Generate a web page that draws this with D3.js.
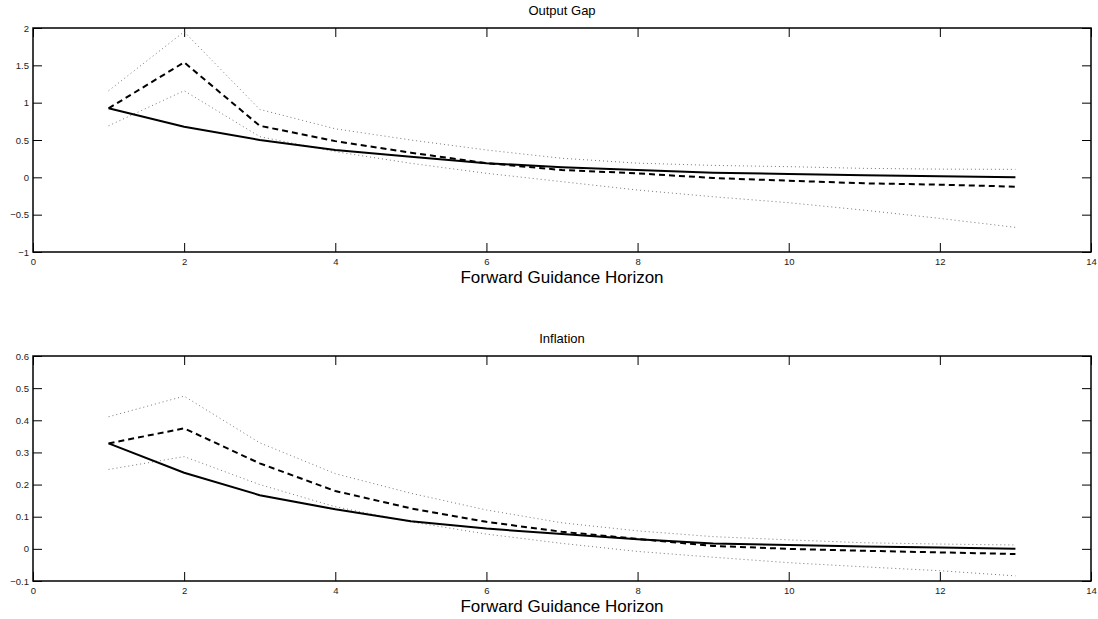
<!DOCTYPE html>
<html>
<head>
<meta charset="utf-8">
<script src="https://cdn.jsdelivr.net/npm/d3@7"></script>
<style>
  html, body { margin: 0; padding: 0; background: #fff; }
  svg { display: block; }
  text { font-family: "Liberation Sans", Arial, Helvetica, sans-serif; }
</style>
</head>
<body>
<svg id="chart" width="1098" height="619"></svg>
<script>
// Forward guidance horizons (x values)
const horizon = [1, 2, 3, 4, 5, 6, 7, 8, 9, 10, 11, 12, 13];

// Output gap responses
const gapBase  = [0.924, 0.678, 0.50, 0.366, 0.277, 0.19, 0.134, 0.098, 0.062, 0.045, 0.027, 0.014, 0.0];
const gapMean  = [0.924, 1.54, 0.69, 0.485, 0.33, 0.19, 0.098, 0.054, -0.009, -0.045, -0.08, -0.098, -0.125];
const gapUpper = [1.16, 1.95, 0.91, 0.65, 0.50, 0.366, 0.255, 0.19, 0.16, 0.143, 0.12, 0.11, 0.107];
const gapLower = [0.69, 1.16, 0.545, 0.344, 0.188, 0.054, -0.058, -0.17, -0.26, -0.34, -0.44, -0.55, -0.67];

// Inflation responses
const infBase  = [0.328, 0.237, 0.167, 0.123, 0.086, 0.063, 0.046, 0.03, 0.017, 0.012, 0.007, 0.004, 0.0];
const infMean  = [0.328, 0.375, 0.266, 0.18, 0.126, 0.084, 0.053, 0.031, 0.009, 0.0, -0.006, -0.011, -0.016];
const infUpper = [0.411, 0.475, 0.33, 0.234, 0.173, 0.121, 0.081, 0.056, 0.038, 0.028, 0.019, 0.015, 0.012];
const infLower = [0.247, 0.287, 0.2, 0.131, 0.084, 0.046, 0.017, -0.008, -0.026, -0.043, -0.056, -0.068, -0.084];

// Axis ticks
const xTicks = [0, 2, 4, 6, 8, 10, 12, 14];
const gapTicks = [-1, -0.5, 0, 0.5, 1, 1.5, 2];
const infTicks = [-0.1, 0, 0.1, 0.2, 0.3, 0.4, 0.5, 0.6];

const titles = ["Output Gap", "Inflation"];
const xLabel = "Forward Guidance Horizon";

const svg = d3.select("#chart");
const left = 33, right = 1091;

const panels = [
  { title: titles[0], top: 28, bottom: 252, domain: [-1, 2], ticks: gapTicks,
    base: gapBase, mean: gapMean, upper: gapUpper, lower: gapLower },
  { title: titles[1], top: 356, bottom: 581, domain: [-0.1, 0.6], ticks: infTicks,
    base: infBase, mean: infMean, upper: infUpper, lower: infLower }
];

const fmt = v => {
  const s = d3.format("")(+v.toFixed(2));
  return s.replace("-", "\u2212");
};

panels.forEach(p => {
  const x = d3.scaleLinear().domain([0, 14]).range([left, right]);
  const y = d3.scaleLinear().domain(p.domain).range([p.bottom, p.top]);
  const g = svg.append("g");
  const tickLen = 9;

  // Bottom axis with labels, ticks pointing inward
  const bottomAxis = d3.axisBottom(x).tickValues(xTicks).tickSizeInner(-tickLen).tickSizeOuter(0)
    .tickPadding(6).tickFormat(d3.format("d"));
  const gb = g.append("g").attr("transform", `translate(0,${p.bottom})`).call(bottomAxis);

  const topAxis = d3.axisTop(x).tickValues(xTicks).tickSizeInner(-tickLen).tickSizeOuter(0).tickFormat("");
  const gt = g.append("g").attr("transform", `translate(0,${p.top})`).call(topAxis);

  const leftAxis = d3.axisLeft(y).tickValues(p.ticks).tickSizeInner(-tickLen).tickSizeOuter(0)
    .tickPadding(4).tickFormat(fmt);
  const gl = g.append("g").attr("transform", `translate(${left},0)`).call(leftAxis);

  const rightAxis = d3.axisRight(y).tickValues(p.ticks).tickSizeInner(-tickLen).tickSizeOuter(0).tickFormat("");
  const gr = g.append("g").attr("transform", `translate(${right},0)`).call(rightAxis);

  [gb, gt, gl, gr].forEach(a => {
    a.select(".domain").remove();
    a.selectAll(".tick line").attr("stroke", "#000").attr("stroke-width", 1);
    a.selectAll(".tick text").attr("fill", "#222").style("font-size", "9.5px");
  });

  // Plot frame
  g.append("rect")
    .attr("x", left).attr("y", p.top)
    .attr("width", right - left).attr("height", p.bottom - p.top)
    .attr("fill", "none").attr("stroke", "#000").attr("stroke-width", 1.5);

  const line = d3.line().x((d, i) => x(horizon[i])).y(d => y(d));

  // Confidence bands
  [p.upper, p.lower].forEach(arr => {
    g.append("path").datum(arr).attr("d", line)
      .attr("fill", "none").attr("stroke", "#777").attr("stroke-width", 1)
      .attr("stroke-dasharray", "1,3");
  });

  // Mean response (dashed)
  g.append("path").datum(p.mean).attr("d", line)
    .attr("fill", "none").attr("stroke", "#000").attr("stroke-width", 2)
    .attr("stroke-dasharray", "6,4");

  // Baseline response (solid)
  g.append("path").datum(p.base).attr("d", line)
    .attr("fill", "none").attr("stroke", "#000").attr("stroke-width", 2);

  // Title
  g.append("text")
    .attr("x", (left + right) / 2).attr("y", p.top - 13)
    .attr("text-anchor", "middle").style("font-size", "13px").attr("fill", "#000")
    .text(p.title);

  // X-axis label
  g.append("text")
    .attr("x", (left + right) / 2).attr("y", p.bottom + 31)
    .attr("text-anchor", "middle").style("font-size", "17px").attr("fill", "#000")
    .text(xLabel);
});
</script>
</body>
</html>
